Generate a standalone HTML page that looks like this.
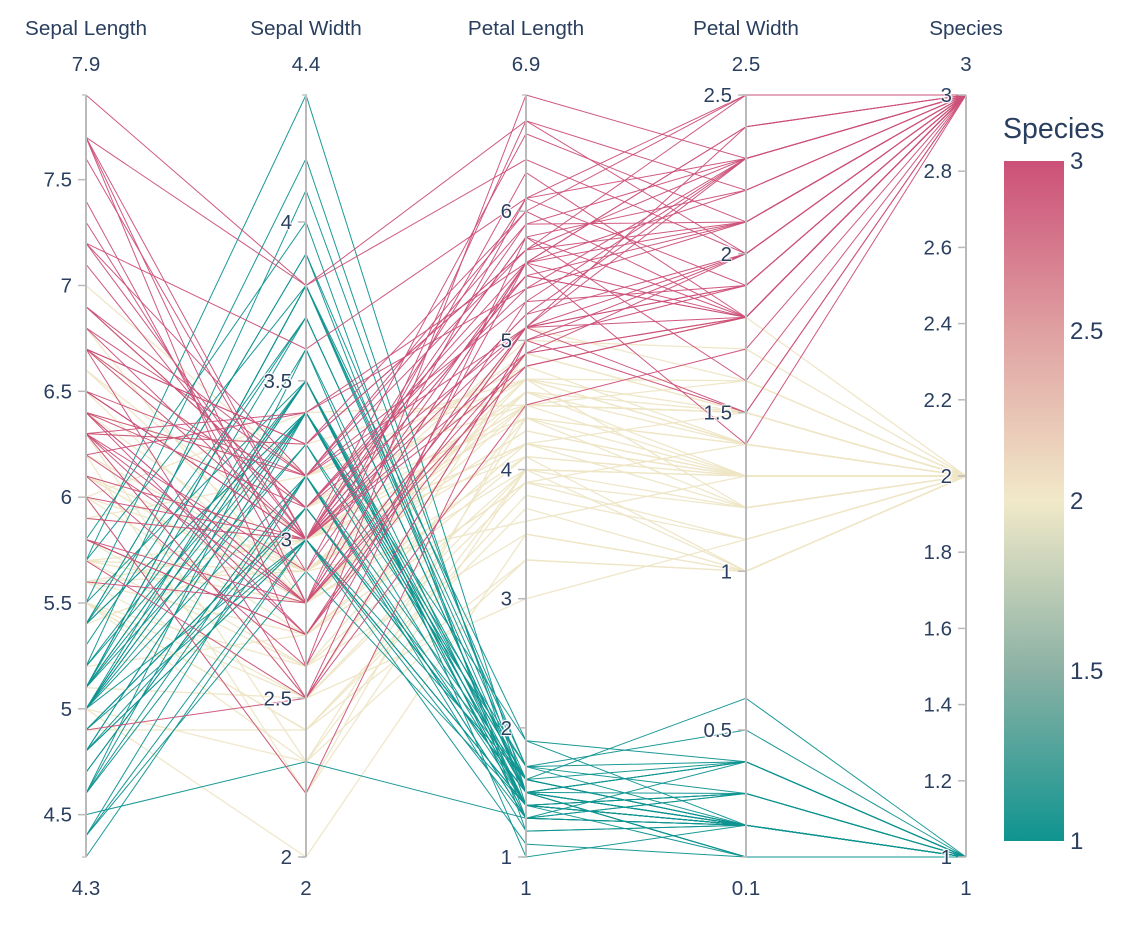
<!DOCTYPE html>
<html lang="en">
<head>
<meta charset="utf-8">
<title>Iris parallel coordinates</title>
<style>
  html, body { margin: 0; padding: 0; background: #fff; width: 1134px; height: 926px; overflow: hidden; }
  svg { display: block; font-family: "Liberation Sans", sans-serif; }
  text { fill: #2a3f5f; }
  .tick-label { font-size: 20.5px; text-shadow: 1px 1px 1px #fff, -1px -1px 1px #fff, 1px -1px 1px #fff, -1px 1px 1px #fff; }
  .axis-title { font-size: 20.7px; }
  .range-label { font-size: 20.5px; }
  .cb-label { font-size: 24px; }
  .cb-title { font-size: 28.5px; }
</style>
</head>
<body>
<svg id="chart" width="1134" height="926" viewBox="0 0 1134 926" xmlns="http://www.w3.org/2000/svg">
  <defs>
    <linearGradient id="cbGrad" x1="0" y1="1" x2="0" y2="0">
      <stop offset="0" stop-color="#0f9490"/>
      <stop offset="0.25" stop-color="#8bb1a4"/>
      <stop offset="0.5" stop-color="#f1e9c9"/>
      <stop offset="0.75" stop-color="#dfa0a1"/>
      <stop offset="1" stop-color="#cc5078"/>
    </linearGradient>
  </defs>
  <g id="lines"></g>
  <g id="axes"></g>
  <g id="colorbar">
    <text class="cb-title" x="1003" y="138">Species</text>
    <rect x="1004" y="161" width="60" height="680" fill="url(#cbGrad)"></rect>
  </g>
</svg>
<script>
const axisNames = ["Sepal Length", "Sepal Width", "Petal Length", "Petal Width", "Species"];
const axisMins = [4.3, 2, 1, 0.1, 1];
const axisMaxs = [7.9, 4.4, 6.9, 2.5, 3];
const sepalLengthTicks = [4.5, 5, 5.5, 6, 6.5, 7, 7.5];
const sepalWidthTicks = [2, 2.5, 3, 3.5, 4];
const petalLengthTicks = [1, 2, 3, 4, 5, 6];
const petalWidthTicks = [0.5, 1, 1.5, 2, 2.5];
const speciesTicks = [1, 1.2, 1.4, 1.6, 1.8, 2, 2.2, 2.4, 2.6, 2.8, 3];
const colorbarTicks = [1, 1.5, 2, 2.5, 3];
const speciesDrawOrder = [2, 1, 3];

const sepalLength = [
5.1,4.9,4.7,4.6,5.0,5.4,4.6,5.0,4.4,4.9,5.4,4.8,4.8,4.3,5.8,5.7,5.4,5.1,5.7,5.1,5.4,5.1,4.6,5.1,4.8,5.0,5.0,5.2,5.2,4.7,4.8,5.4,5.2,5.5,4.9,5.0,5.5,4.9,4.4,5.1,5.0,4.5,4.4,5.0,5.1,4.8,5.1,4.6,5.3,5.0,
7.0,6.4,6.9,5.5,6.5,5.7,6.3,4.9,6.6,5.2,5.0,5.9,6.0,6.1,5.6,6.7,5.6,5.8,6.2,5.6,5.9,6.1,6.3,6.1,6.4,6.6,6.8,6.7,6.0,5.7,5.5,5.5,5.8,6.0,5.4,6.0,6.7,6.3,5.6,5.5,5.5,6.1,5.8,5.0,5.6,5.7,5.7,6.2,5.1,5.7,
6.3,5.8,7.1,6.3,6.5,7.6,4.9,7.3,6.7,7.2,6.5,6.4,6.8,5.7,5.8,6.4,6.5,7.7,7.7,6.0,6.9,5.6,7.7,6.3,6.7,7.2,6.2,6.1,6.4,7.2,7.4,7.9,6.4,6.3,6.1,7.7,6.3,6.4,6.0,6.9,6.7,6.9,5.8,6.8,6.7,6.7,6.3,6.5,6.2,5.9];
const sepalWidth = [
3.5,3.0,3.2,3.1,3.6,3.9,3.4,3.4,2.9,3.1,3.7,3.4,3.0,3.0,4.0,4.4,3.9,3.5,3.8,3.8,3.4,3.7,3.6,3.3,3.4,3.0,3.4,3.5,3.4,3.2,3.1,3.4,4.1,4.2,3.1,3.2,3.5,3.1,3.0,3.4,3.5,2.3,3.2,3.5,3.8,3.0,3.8,3.2,3.7,3.3,
3.2,3.2,3.1,2.3,2.8,2.8,3.3,2.4,2.9,2.7,2.0,3.0,2.2,2.9,2.9,3.1,3.0,2.7,2.2,2.5,3.2,2.8,2.5,2.8,2.9,3.0,2.8,3.0,2.9,2.6,2.4,2.4,2.7,2.7,3.0,3.4,3.1,2.3,3.0,2.5,2.6,3.0,2.6,2.3,2.7,3.0,2.9,2.9,2.5,2.8,
3.3,2.7,3.0,2.9,3.0,3.0,2.5,2.9,2.5,3.6,3.2,2.7,3.0,2.5,2.8,3.2,3.0,3.8,2.6,2.2,3.2,2.8,2.8,2.7,3.3,3.2,2.8,3.0,2.8,3.0,2.8,3.8,2.8,2.8,2.6,3.0,3.4,3.1,3.0,3.1,3.1,3.1,2.7,3.2,3.3,3.0,2.5,3.0,3.4,3.0];
const petalLength = [
1.4,1.4,1.3,1.5,1.4,1.7,1.4,1.5,1.4,1.5,1.5,1.6,1.4,1.1,1.2,1.5,1.3,1.4,1.7,1.5,1.7,1.5,1.0,1.7,1.9,1.6,1.6,1.5,1.4,1.6,1.6,1.5,1.5,1.4,1.5,1.2,1.3,1.5,1.3,1.5,1.3,1.3,1.3,1.6,1.9,1.4,1.6,1.4,1.5,1.4,
4.7,4.5,4.9,4.0,4.6,4.5,4.7,3.3,4.6,3.9,3.5,4.2,4.0,4.7,3.6,4.4,4.5,4.1,4.5,3.9,4.8,4.0,4.9,4.7,4.3,4.4,4.8,5.0,4.5,3.5,3.8,3.7,3.9,5.1,4.5,4.5,4.7,4.4,4.1,4.0,4.4,4.6,4.0,3.3,4.2,4.2,4.2,4.3,3.0,4.1,
6.0,5.1,5.9,5.6,5.8,6.6,4.5,6.3,5.8,6.1,5.1,5.3,5.5,5.0,5.1,5.3,5.5,6.7,6.9,5.0,5.7,4.9,6.7,4.9,5.7,6.0,4.8,4.9,5.6,5.8,6.1,6.4,5.6,5.1,5.6,6.1,5.6,5.5,4.8,5.4,5.6,5.1,5.1,5.9,5.7,5.2,5.0,5.2,5.4,5.1];
const petalWidth = [
0.2,0.2,0.2,0.2,0.2,0.4,0.3,0.2,0.2,0.1,0.2,0.2,0.1,0.1,0.2,0.4,0.4,0.3,0.3,0.3,0.2,0.4,0.2,0.5,0.2,0.2,0.4,0.2,0.2,0.2,0.2,0.4,0.1,0.2,0.1,0.2,0.2,0.1,0.2,0.2,0.3,0.3,0.2,0.6,0.4,0.3,0.2,0.2,0.2,0.2,
1.4,1.5,1.5,1.3,1.5,1.3,1.6,1.0,1.3,1.4,1.0,1.5,1.0,1.4,1.3,1.4,1.5,1.0,1.5,1.1,1.8,1.3,1.5,1.2,1.3,1.4,1.4,1.7,1.5,1.0,1.1,1.0,1.2,1.6,1.5,1.6,1.5,1.3,1.3,1.3,1.2,1.4,1.2,1.0,1.3,1.2,1.3,1.3,1.1,1.3,
2.5,1.9,2.1,1.8,2.2,2.1,1.7,1.8,1.8,2.5,2.0,1.9,2.1,2.0,2.4,2.3,1.8,2.2,2.3,1.5,2.3,2.0,2.0,1.8,2.1,1.8,1.8,1.8,2.1,1.6,1.9,2.0,2.2,1.5,1.4,2.3,2.4,1.8,1.8,2.1,2.4,2.3,1.9,2.3,2.5,2.3,1.9,2.0,2.3,1.8];
const species = [
1,1,1,1,1,1,1,1,1,1,1,1,1,1,1,1,1,1,1,1,1,1,1,1,1,1,1,1,1,1,1,1,1,1,1,1,1,1,1,1,1,1,1,1,1,1,1,1,1,1,
2,2,2,2,2,2,2,2,2,2,2,2,2,2,2,2,2,2,2,2,2,2,2,2,2,2,2,2,2,2,2,2,2,2,2,2,2,2,2,2,2,2,2,2,2,2,2,2,2,2,
3,3,3,3,3,3,3,3,3,3,3,3,3,3,3,3,3,3,3,3,3,3,3,3,3,3,3,3,3,3,3,3,3,3,3,3,3,3,3,3,3,3,3,3,3,3,3,3,3,3];

const columns = [sepalLength, sepalWidth, petalLength, petalWidth, species];
const axisTicks = [sepalLengthTicks, sepalWidthTicks, petalLengthTicks, petalWidthTicks, speciesTicks];

const PLOT = { left: 86, spacing: 220, top: 95, bottom: 857 };
const CB = { top: 161, bottom: 841, labelX: 1070 };
const SVG_NS = "http://www.w3.org/2000/svg";
const linesLayer = document.getElementById("lines");
const axesLayer = document.getElementById("axes");
const colorbarLayer = document.getElementById("colorbar");

function axisX(i) { return PLOT.left + i * PLOT.spacing; }
function axisY(i, v) {
  const t = (v - axisMins[i]) / (axisMaxs[i] - axisMins[i]);
  return PLOT.bottom - t * (PLOT.bottom - PLOT.top);
}
function colorbarY(v) {
  const t = (v - colorbarTicks[0]) / (colorbarTicks[colorbarTicks.length - 1] - colorbarTicks[0]);
  return CB.bottom - t * (CB.bottom - CB.top);
}
function mix(a, b, t) {
  return "rgb(" + a.map(function (c, k) { return Math.round(c + (b[k] - c) * t); }).join(",") + ")";
}
function colorFor(v) {
  const low = [15, 148, 144], mid = [238, 230, 198], high = [204, 80, 120];
  const t = (v - axisMins[4]) / (axisMaxs[4] - axisMins[4]);
  return t < 0.5 ? mix(low, mid, t * 2) : mix(mid, high, (t - 0.5) * 2);
}
function strokeWidthFor(v) {
  return v === axisMins[4] || v === axisMaxs[4] ? 1 : 1.3;
}
function svgEl(tag, attrs, parent, text) {
  const el = document.createElementNS(SVG_NS, tag);
  Object.keys(attrs).forEach(function (k) { el.setAttribute(k, attrs[k]); });
  if (text !== undefined) el.textContent = text;
  parent.appendChild(el);
  return el;
}

// Lines
speciesDrawOrder.forEach(function (group) {
  species.forEach(function (s, row) {
    if (s !== group) return;
    const pts = columns.map(function (col, i) { return axisX(i) + "," + axisY(i, col[row]).toFixed(2); }).join(" ");
    const el = svgEl("polyline", { points: pts, fill: "none", stroke: colorFor(s), "stroke-width": strokeWidthFor(s), "stroke-opacity": 0.95 }, linesLayer);
    
    
  });
});

// Axes
axisNames.forEach(function (name, i) {
  const x = axisX(i);
  const g = svgEl("g", {}, axesLayer);
  
  

  const line = svgEl("line", { x1: x, x2: x, y1: PLOT.top, y2: PLOT.bottom, stroke: "#bababa", "stroke-width": 2 }, g);
  
  

  const title = svgEl("text", { class: "axis-title", x: x, y: 35, "text-anchor": "middle" }, g, name);
  
  

  const maxLabel = svgEl("text", { class: "range-label", x: x, y: 71, "text-anchor": "middle" }, g, String(axisMaxs[i]));
  
  

  const minLabel = svgEl("text", { class: "range-label", x: x, y: 895, "text-anchor": "middle" }, g, String(axisMins[i]));
  
  

  [axisMins[i], axisMaxs[i]].forEach(function (v) {
    const endTick = svgEl("line", { x1: x - 4, x2: x, y1: axisY(i, v), y2: axisY(i, v), stroke: "#c4c4c4", "stroke-width": 1.5 }, g);
    
    
  });

  axisTicks[i].forEach(function (v) {
    const y = axisY(i, v);
    const tick = svgEl("line", { x1: x - 8, x2: x, y1: y, y2: y, stroke: "#bababa", "stroke-width": 1.5 }, g);
    
    
    const label = svgEl("text", { class: "tick-label", x: x - 14, y: y + 7, "text-anchor": "end" }, g, String(v));
    
    
  });
});

// Colorbar labels
colorbarTicks.forEach(function (v) {
  const label = svgEl("text", { class: "cb-label", x: CB.labelX, y: colorbarY(v) + 8 }, colorbarLayer, String(v));
  
  
});
</script>
</body>
</html>
